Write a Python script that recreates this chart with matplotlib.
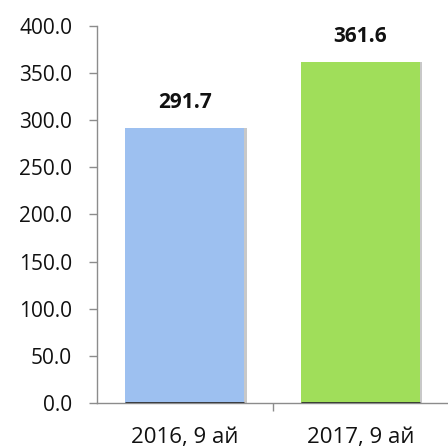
import matplotlib
matplotlib.use("Agg")
import matplotlib.pyplot as plt
from matplotlib.ticker import FixedLocator, MultipleLocator, FormatStrFormatter

categories = ["2016, 9 ай", "2017, 9 ай"]
values = [291.7, 361.6]
colors = ["#9dc0f0", "#a0de5a"]

plt.rcParams['font.family'] = ['Open Sans', 'DejaVu Sans']

fig = plt.figure(figsize=(4.48, 4.48), dpi=100)
ax = fig.add_axes([97/448, 1 - 403/448, 1 - 97/448, (403 - 26)/448])

x = list(range(len(categories)))
w = 0.68
# subtle shadow
ax.bar([xi + 0.012 for xi in x], values, width=w, color="#c8c8c8", zorder=1)
ax.bar(x, values, width=w, color=colors, zorder=2)
ax.hlines([0] * len(x), [xi - w / 2 for xi in x], [xi + w / 2 for xi in x],
          color="#303030", lw=2, zorder=4)

for xi, v in zip(x, values):
    ax.text(xi, v + 21, f"{v:.1f}", ha="center", va="baseline", fontsize=15, fontweight="bold", color="#111111")

ax.set_xlim(-0.5, 1.5)
ax.set_ylim(0, 400)
ax.yaxis.set_major_locator(MultipleLocator(50))
ax.yaxis.set_major_formatter(FormatStrFormatter("%.1f"))
ax.set_xticks(x)
ax.set_xticklabels(categories)
ax.xaxis.set_minor_locator(FixedLocator([0.5]))
ax.tick_params(axis="x", which="major", length=0, labelsize=16, pad=17)
ax.tick_params(axis="x", which="minor", length=6, color="#8c8c8c", width=1)
ax.tick_params(axis="y", length=6, color="#8c8c8c", width=1, labelsize=15, pad=12, labelcolor="#111111")
ax.tick_params(axis="x", labelcolor="#111111")

for s in ["top", "right"]:
    ax.spines[s].set_visible(False)
for s in ["left", "bottom"]:
    ax.spines[s].set_color("#8c8c8c")
    ax.spines[s].set_linewidth(1)

fig.savefig("out.png", dpi=100)
